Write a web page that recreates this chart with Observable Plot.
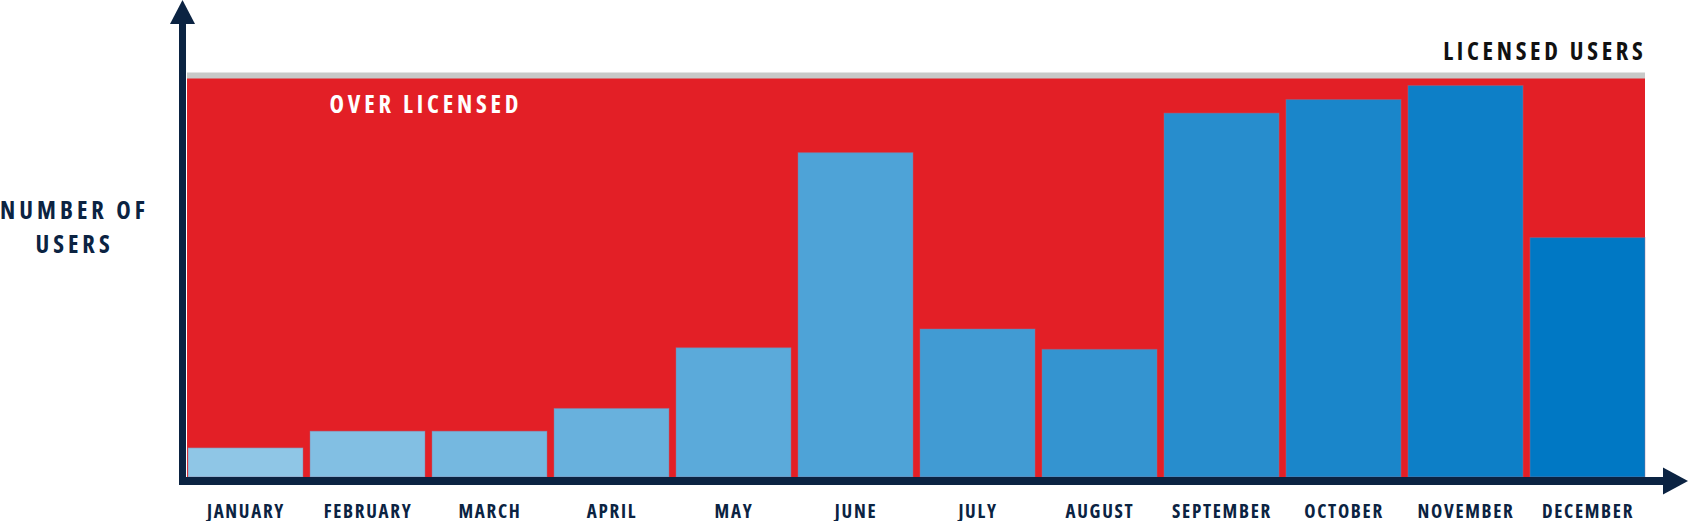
<!DOCTYPE html>
<html>
<head>
<meta charset="utf-8">
<script src="https://cdn.jsdelivr.net/npm/d3@7"></script>
<script src="https://cdn.jsdelivr.net/npm/@observablehq/plot@0.6"></script>
<style>
  html, body { margin: 0; padding: 0; background: #ffffff; }
  #chart svg { display: block; }
  #chart svg text { font-stretch: 75%; }
</style>
</head>
<body>
<div id="chart"></div>
<script>
const months = ["JANUARY", "FEBRUARY", "MARCH", "APRIL", "MAY", "JUNE", "JULY", "AUGUST", "SEPTEMBER", "OCTOBER", "NOVEMBER", "DECEMBER"];
const users = [73, 115, 115, 172, 324, 813, 371, 320, 912, 946, 981, 600];
const licensed = 1000;
const yTitle = "NUMBER OF\nUSERS";
const licensedTitle = "LICENSED USERS";
const overTitle = "OVER LICENSED";

const navy = "#0b2342";
const red = "#e31f26";
const gray = "#c8c9c8";
const font = "'Open Sans', 'DejaVu Sans Condensed', sans-serif";

const data = months.map((m, i) => ({month: m, users: users[i], i}));

// axis lines with arrowheads, placed from the plot's own dimensions
function axesArrows(index, scales, values, dimensions) {
  const {width, height, marginLeft, marginBottom} = dimensions;
  const g = d3.create("svg:g").attr("aria-label", "axes");
  const yAxisX = marginLeft - 4.5;
  const xAxisY = height - marginBottom + 4;
  g.append("rect").attr("x", yAxisX - 3.5).attr("y", 20).attr("width", 7)
    .attr("height", xAxisY + 4 - 20).attr("fill", navy);
  g.append("path").attr("d", `M${yAxisX},0L${yAxisX + 12.5},24L${yAxisX - 12.5},24Z`).attr("fill", navy);
  g.append("rect").attr("x", yAxisX - 3.5).attr("y", xAxisY - 4).attr("width", width - 28 - (yAxisX - 3.5) + 2)
    .attr("height", 8).attr("fill", navy);
  g.append("path").attr("d", `M${width - 3},${xAxisY}L${width - 28},${xAxisY - 13.5}L${width - 28},${xAxisY + 13.5}Z`).attr("fill", navy);
  return g.node();
}

const spacings = [1.7, 4, 3.7, 3.8]; // months, y title, licensed label, over label

const chart = Plot.plot({
  width: 1691,
  height: 521,
  marginLeft: 187,
  marginRight: 46,
  marginTop: 78,
  marginBottom: 44,
  x: {domain: months, paddingInner: 0.06, paddingOuter: 0, axis: null},
  y: {domain: [0, licensed], axis: null},
  color: {type: "linear", domain: [0, months.length - 1], range: ["#8fc6e6", "#0078c4"], interpolate: "rgb"},
  style: {fontFamily: font, background: "#ffffff", overflow: "visible"},
  marks: [
    Plot.rectY([licensed], {y: d => d, fill: red}),
    Plot.ruleY([licensed], {stroke: gray, strokeWidth: 6, dy: -3}),
    Plot.barY(data, {x: "month", y: "users", fill: "i", stroke: "#9c6f8e", strokeOpacity: 0.45, strokeWidth: 1}),
    axesArrows,
    Plot.text(months, {x: d => d, frameAnchor: "bottom", lineAnchor: "top", dx: 0, dy: 27, fontSize: 19, fontWeight: "bold", fill: navy}),
    Plot.text([yTitle], {frameAnchor: "top-left", textAnchor: "middle", lineAnchor: "top", dx: -113, dy: 116, lineHeight: 1.4, fontSize: 24.5, fontWeight: "bold", fill: navy}),
    Plot.text([licensedTitle], {frameAnchor: "top-right", textAnchor: "end", lineAnchor: "top", dx: 1, dy: -36, fontSize: 24.5, fontWeight: "bold", fill: "#111111"}),
    Plot.text([overTitle], {frameAnchor: "top-left", textAnchor: "start", lineAnchor: "top", dx: 142, dy: 17, fontSize: 24.5, fontWeight: "bold", fill: "#ffffff"})
  ]
});
d3.select(chart).selectAll('g[aria-label="text"]').each(function(_, k) {
  if (k < spacings.length) this.style.letterSpacing = spacings[k] + "px";
});
document.getElementById("chart").appendChild(chart);
</script>
</body>
</html>
